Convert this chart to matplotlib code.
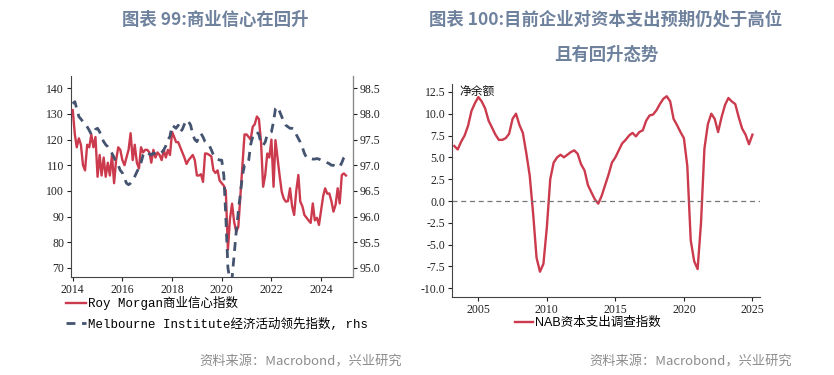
import numpy as np
import pandas as pd
import matplotlib
matplotlib.use('Agg')
import matplotlib.pyplot as plt
from matplotlib.font_manager import FontProperties

# 左图: Roy Morgan 商业信心 (左轴) 与 Melbourne Institute 领先指数 (右轴), 月度 2014-01 ~ 2025-01
roy_morgan = [
    131.5, 122, 117, 120.5, 118, 110, 108, 118, 117, 122, 117, 121,        # 2014
    105.5, 114, 106, 113, 105.5, 111, 106, 114, 103, 112, 117, 116,        # 2015
    112, 110, 113, 116, 122.5, 112, 118, 111, 108.8, 117, 115, 116,        # 2016
    116, 115, 111, 116, 113, 115, 114, 112, 116, 113, 116, 114,            # 2017
    123, 121, 119, 119, 117, 115, 113, 110.5, 112, 113, 114, 112,          # 2018
    106, 106, 106.5, 103.5, 114.6, 114.5, 114, 113.5, 108, 107, 108, 104,  # 2019
    103, 102, 100, 77, 89, 95, 88, 84, 86, 98, 110, 122,                   # 2020
    122, 121, 120, 125, 126, 129, 128, 119, 101.6, 106, 114.6, 113,        # 2021
    120, 101.6, 119.8, 112.7, 106, 99.7, 97, 95.8, 96, 101, 94, 90.6,      # 2022
    100, 106.2, 95.8, 94, 90.6, 89.5, 88.5, 87.5, 95.1, 88.5, 89.5, 86.7,  # 2023
    92.5, 98, 101, 98.9, 99, 96, 91.9, 94.5, 101, 95.1, 106.2, 106.8,      # 2024
    106,                                                                   # 2025
]
melbourne = [
    98.2, 98.24, 98.1, 97.95, 97.9, 97.85, 97.82, 97.75, 97.68, 97.6, 97.62, 97.7,
    97.72, 97.65, 97.55, 97.46, 97.4, 97.36, 97.3, 97.23, 97.15, 97.05, 97.0, 96.9,
    96.85, 96.75, 96.65, 96.62, 96.65, 96.7, 96.78, 96.87, 96.95, 97.05, 97.2, 97.26,
    97.25, 97.22, 97.2, 97.24, 97.22, 97.2, 97.22, 97.25, 97.3, 97.38, 97.5, 97.56,
    97.78, 97.75, 97.72, 97.78, 97.65, 97.7, 97.8, 97.88, 97.85, 97.78, 97.6, 97.5,
    97.46, 97.55, 97.62, 97.55, 97.46, 97.42, 97.39, 97.3, 97.2, 97.17, 97.12, 97.1,
    97.1, 96.8, 96.0, 95.0, 94.75, 94.8, 95.25, 95.7, 96.1, 96.45, 96.8, 97.0,
    97.0, 97.1, 97.4, 97.56, 97.62, 97.65, 97.6, 97.42, 97.39, 97.45, 97.6, 97.62,
    97.65, 97.85, 98.1, 98.14, 98.05, 97.95, 97.85, 97.78, 97.75, 97.72, 97.72, 97.7,
    97.6, 97.52, 97.45, 97.35, 97.23, 97.15, 97.13, 97.13, 97.12, 97.12, 97.13, 97.12,
    97.1, 97.08, 97.07, 97.05, 97.03, 97.0, 97.0, 96.98, 96.97, 96.97, 97.05, 97.15,
    97.2,
]
dates_left = pd.date_range('2014-01-01', periods=len(roy_morgan), freq='MS')
left_years = [2014, 2016, 2018, 2020, 2022, 2024]
left_yticks = [70, 80, 90, 100, 110, 120, 130, 140]
right_yticks = [95.0, 95.5, 96.0, 96.5, 97.0, 97.5, 98.0, 98.5]

# 右图: NAB 资本支出调查指数, 季度 2003Q2 ~ 2025Q1
nab_capex = [
    6.3, 5.9, 6.8,
    7.5, 8.6, 10.3, 11.2,
    11.9, 11.4, 10.6, 9.2,
    8.4, 7.6, 7.0, 7.0,
    7.2, 7.7, 9.4, 10.0,
    8.7, 7.8, 5.5, 2.9,
    -1.5, -6.5, -8.1, -7.2,
    -3.0, 2.5, 4.4, 5.0,
    5.3, 5.0, 5.3, 5.6,
    5.8, 5.4, 4.2, 3.5,
    1.8, 1.0, 0.2, -0.3,
    0.6, 1.8, 3.0, 4.4,
    5.0, 5.8, 6.6, 7.0,
    7.5, 7.8, 7.4, 7.9,
    8.1, 9.2, 9.8, 9.9,
    10.4, 11.1, 11.7, 12.0,
    11.4, 9.4, 8.7, 7.9,
    7.2, 4.0, -4.5, -6.9,
    -7.8, -2.5, 6.0, 8.8,
    10.0, 9.4, 7.9, 9.6,
    11.0, 11.8, 11.4, 11.1,
    9.6, 8.3, 7.6, 6.5,
    7.6,
]
dates_right = pd.date_range('2003-04-01', periods=len(nab_capex), freq='QS')
right_years = [2005, 2010, 2015, 2020, 2025]
nab_yticks = [-10.0, -7.5, -5.0, -2.5, 0.0, 2.5, 5.0, 7.5, 10.0, 12.5]

RED = '#cc3a4d'
NAVY = '#44536f'
TITLE_C = '#6e819d'

tick_font = FontProperties(family='Liberation Serif', size=8.5)
legend_font = FontProperties(family=['Liberation Mono', 'Noto Sans CJK SC'], size=9)
legend_font2 = FontProperties(family=['Liberation Sans', 'Noto Sans CJK SC'], size=9)
cjk = ['Noto Sans CJK SC', 'DejaVu Sans']

fig = plt.figure(figsize=(8.34, 3.75), dpi=100)

# ---------------- 左图 ----------------
ax = fig.add_axes([0.0851, 0.2613, 0.3382, 0.536])
ax_r = ax.twinx()
l1, = ax.plot(dates_left, roy_morgan, color=RED, lw=1.7, zorder=3)
l2, = ax_r.plot(dates_left, melbourne, color=NAVY, lw=2.0, dashes=(3.2, 2.4))

ax.set_xlim(pd.Timestamp('2013-12-06'), pd.Timestamp('2025-04-15'))
ax.set_ylim(66.4, 144.8)
ax_r.set_ylim(94.82, 98.74)
ax.set_xticks([pd.Timestamp(f'{y}-01-01') for y in left_years])
ax.set_xticklabels([str(y) for y in left_years])
ax.set_yticks(left_yticks)
ax.set_yticklabels([str(v) for v in left_yticks])
ax_r.set_yticks(right_yticks)
ax_r.set_yticklabels([f'{v:.1f}' for v in right_yticks])

for a in (ax, ax_r):
    a.spines['top'].set_visible(False)
    for lab in a.get_xticklabels() + a.get_yticklabels():
        lab.set_fontproperties(tick_font)
    a.tick_params(length=3, width=0.8, pad=2, colors='#222222')
ax.spines['left'].set_color('#444444')
ax.spines['bottom'].set_color('#444444')
ax_r.spines['right'].set_color('#888888')
ax_r.spines['left'].set_visible(False)
ax_r.spines['bottom'].set_visible(False)

fig.legend([l1, l2], ['Roy Morgan商业信心指数', 'Melbourne Institute经济活动领先指数, rhs'],
           loc='upper left', bbox_to_anchor=(66 / 834, 1 - 296 / 375),
           frameon=False, prop=legend_font, handlelength=1.6, handletextpad=0.2,
           labelspacing=0.6, borderpad=0, borderaxespad=0)

# ---------------- 右图 ----------------
ax2 = fig.add_axes([0.5423, 0.2088, 0.369, 0.5672])
l3, = ax2.plot(dates_right, nab_capex, color=RED, lw=1.7)
ax2.axhline(0, color='#777777', lw=0.9, dashes=(4, 3))
ax2.set_xlim(pd.Timestamp('2003-02-06'), pd.Timestamp('2025-07-22'))
ax2.set_ylim(-10.96, 13.4)
ax2.set_xticks([pd.Timestamp(f'{y}-01-01') for y in right_years])
ax2.set_xticklabels([str(y) for y in right_years])
ax2.set_yticks(nab_yticks)
ax2.set_yticklabels([f'{v:.1f}' for v in nab_yticks])
for lab in ax2.get_xticklabels() + ax2.get_yticklabels():
    lab.set_fontproperties(tick_font)
ax2.tick_params(length=3, width=0.8, pad=2, colors='#222222')
ax2.spines['top'].set_visible(False)
ax2.spines['right'].set_visible(False)
ax2.spines['left'].set_color('#444444')
ax2.spines['bottom'].set_color('#444444')
fig.text(459 / 834, 1 - 92 / 375, '净余额', ha='left', va='center', fontsize=8.5,
         family=cjk, color='#111111')

fig.legend([l3], ['NAB资本支出调查指数'], loc='upper left',
           bbox_to_anchor=(515 / 834, 1 - 317 / 375), frameon=False, prop=legend_font2,
           handlelength=1.4, handletextpad=0.2, borderpad=0, borderaxespad=0)

# ---------------- 标题与来源 ----------------
fig.text(215 / 834, 1 - 20 / 375, '图表 99:商业信心在回升', ha='center', va='center',
         fontsize=12.5, weight='bold', color=TITLE_C, family=cjk)
fig.text(606 / 834, 1 - 20 / 375, '图表 100:目前企业对资本支出预期仍处于高位', ha='center',
         va='center', fontsize=12.5, weight='bold', color=TITLE_C, family=cjk)
fig.text(606 / 834, 1 - 55 / 375, '且有回升态势', ha='center', va='center',
         fontsize=12.5, weight='bold', color=TITLE_C, family=cjk)
fig.text(402 / 834, 1 - 362 / 375, '资料来源：Macrobond，兴业研究', ha='right', va='center',
         fontsize=9.5, color='#8c8c8c', family=cjk)
fig.text(792 / 834, 1 - 362 / 375, '资料来源：Macrobond，兴业研究', ha='right', va='center',
         fontsize=9.5, color='#8c8c8c', family=cjk)

fig.savefig('out.png', dpi=100)
